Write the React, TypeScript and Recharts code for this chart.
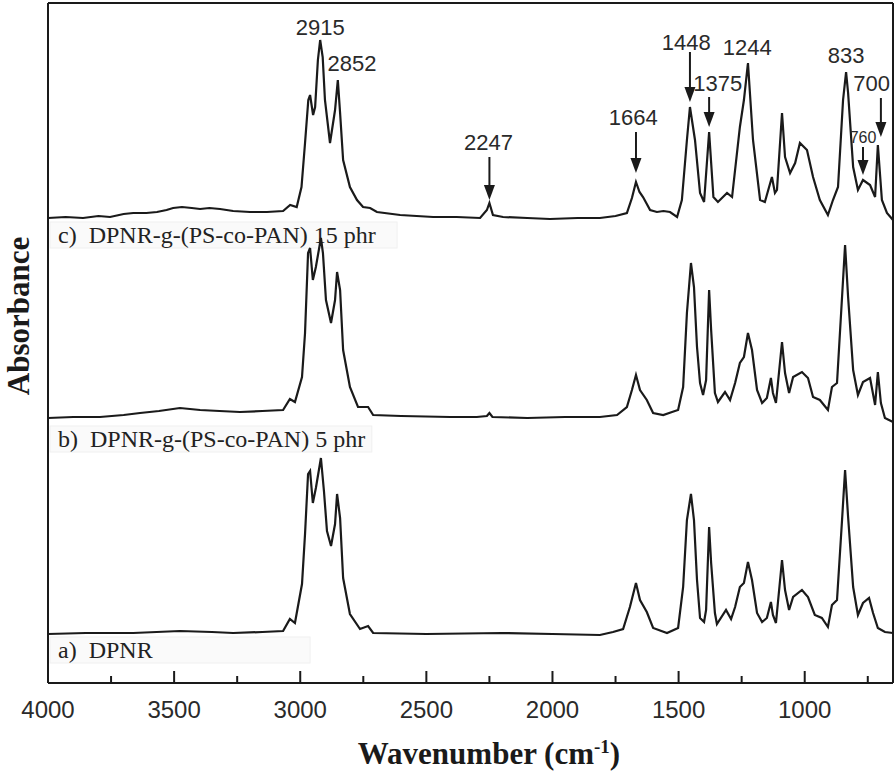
import React from 'react';
import { LineChart, Line, XAxis, YAxis, ReferenceArea, ReferenceDot, ReferenceLine } from 'recharts';

// ---- Data (wavenumber in cm-1, absorbance in arbitrary units relative to each spectrum baseline) ----
const cWave = [4000, 3930, 3861, 3800, 3754, 3700, 3662, 3610, 3568, 3530, 3504, 3469, 3430, 3397, 3360, 3318, 3266, 3199, 3132, 3068, 3040, 3014, 2995, 2981, 2968, 2961, 2949, 2941, 2930, 2921, 2911, 2902, 2882, 2862, 2851, 2842, 2830, 2803, 2775, 2751, 2723, 2696, 2604, 2473, 2380, 2287, 2260, 2250, 2236, 2196, 2100, 2010, 1900, 1812, 1750, 1705, 1685, 1669, 1655, 1641, 1613, 1586, 1560, 1534, 1506, 1487, 1467, 1455, 1435, 1415, 1399, 1379, 1362, 1344, 1308, 1288, 1257, 1241, 1225, 1205, 1177, 1158, 1130, 1118, 1110, 1090, 1078, 1058, 1038, 1019, 991, 967, 940, 908, 888, 868, 848, 836, 828, 808, 789, 769, 741, 721, 710, 694, 674, 650];
const cAbs = [0.00, 0.01, 0.00, 0.02, 0.01, 0.04, 0.05, 0.05, 0.06, 0.08, 0.10, 0.11, 0.10, 0.09, 0.10, 0.09, 0.07, 0.06, 0.06, 0.07, 0.13, 0.11, 0.31, 0.75, 1.18, 1.23, 1.03, 1.11, 1.58, 1.78, 1.61, 1.18, 0.75, 1.08, 1.38, 1.05, 0.58, 0.31, 0.18, 0.11, 0.10, 0.06, 0.03, 0.01, 0.01, 0.00, 0.08, 0.15, 0.03, 0.01, 0.00, -0.01, 0.00, 0.00, 0.02, 0.05, 0.20, 0.36, 0.26, 0.21, 0.08, 0.06, 0.07, 0.06, 0.01, 0.18, 0.78, 1.11, 0.78, 0.25, 0.16, 0.86, 0.21, 0.16, 0.25, 0.21, 0.91, 1.18, 1.55, 0.78, 0.18, 0.16, 0.41, 0.25, 0.28, 1.05, 0.61, 0.45, 0.55, 0.75, 0.68, 0.41, 0.18, 0.03, 0.18, 0.31, 1.18, 1.46, 1.25, 0.51, 0.28, 0.38, 0.33, 0.21, 0.73, 0.18, 0.05, -0.02];

const bWave = [4000, 3900, 3794, 3700, 3635, 3560, 3477, 3397, 3320, 3239, 3150, 3068, 3041, 3021, 2993, 2981, 2969, 2961, 2950, 2938, 2918, 2910, 2898, 2878, 2862, 2854, 2842, 2830, 2803, 2771, 2731, 2711, 2600, 2406, 2300, 2260, 2250, 2238, 2100, 1950, 1812, 1744, 1705, 1685, 1669, 1653, 1626, 1601, 1561, 1526, 1502, 1482, 1467, 1451, 1439, 1427, 1415, 1403, 1391, 1379, 1371, 1356, 1344, 1316, 1296, 1276, 1257, 1241, 1225, 1209, 1189, 1169, 1150, 1134, 1126, 1114, 1090, 1078, 1062, 1046, 1011, 987, 967, 940, 908, 892, 872, 852, 840, 828, 808, 789, 769, 741, 721, 710, 698, 682, 650];
const bAbs = [0.00, 0.01, 0.01, 0.03, 0.05, 0.07, 0.10, 0.08, 0.07, 0.06, 0.07, 0.08, 0.19, 0.16, 0.41, 0.85, 1.65, 1.70, 1.38, 1.51, 1.80, 1.65, 1.18, 0.95, 1.18, 1.46, 1.28, 0.68, 0.31, 0.11, 0.11, 0.03, 0.02, 0.01, 0.01, 0.02, 0.05, 0.01, 0.00, 0.01, 0.01, 0.03, 0.11, 0.28, 0.43, 0.28, 0.18, 0.05, 0.03, 0.06, 0.08, 0.31, 1.05, 1.55, 1.31, 0.71, 0.35, 0.23, 0.38, 1.28, 0.88, 0.25, 0.16, 0.26, 0.18, 0.35, 0.55, 0.61, 0.85, 0.68, 0.28, 0.15, 0.20, 0.40, 0.25, 0.15, 0.76, 0.45, 0.25, 0.41, 0.46, 0.40, 0.21, 0.18, 0.08, 0.31, 0.35, 1.21, 1.73, 1.21, 0.48, 0.23, 0.36, 0.40, 0.13, 0.46, 0.15, 0.00, -0.04];

const aWave = [4000, 3850, 3662, 3477, 3350, 3266, 3150, 3068, 3041, 3021, 2993, 2981, 2969, 2961, 2950, 2938, 2918, 2906, 2894, 2878, 2862, 2854, 2842, 2830, 2803, 2763, 2731, 2711, 2500, 2200, 2000, 1812, 1760, 1720, 1693, 1669, 1653, 1626, 1601, 1546, 1502, 1482, 1467, 1451, 1439, 1427, 1415, 1399, 1391, 1379, 1371, 1356, 1348, 1312, 1292, 1276, 1257, 1241, 1225, 1209, 1189, 1169, 1150, 1134, 1126, 1114, 1090, 1078, 1062, 1046, 1011, 987, 960, 932, 908, 892, 872, 852, 840, 828, 808, 789, 769, 745, 729, 710, 682, 650];
const aAbs = [0.00, 0.01, 0.01, 0.03, 0.02, 0.01, 0.02, 0.03, 0.15, 0.11, 0.50, 1.00, 1.60, 1.63, 1.31, 1.46, 1.76, 1.43, 1.03, 0.88, 1.10, 1.40, 1.16, 0.56, 0.20, 0.05, 0.08, 0.01, 0.00, 0.01, 0.00, -0.01, 0.02, 0.05, 0.27, 0.51, 0.34, 0.22, 0.06, 0.01, 0.06, 0.47, 1.14, 1.40, 1.14, 0.54, 0.16, 0.12, 0.24, 1.07, 0.71, 0.21, 0.10, 0.24, 0.15, 0.27, 0.47, 0.51, 0.72, 0.54, 0.21, 0.12, 0.16, 0.32, 0.19, 0.11, 0.74, 0.44, 0.24, 0.37, 0.44, 0.37, 0.19, 0.16, 0.07, 0.29, 0.34, 1.14, 1.64, 1.17, 0.47, 0.19, 0.31, 0.36, 0.21, 0.06, 0.02, 0.01];

// vertical stacking offsets of the three spectra
const offsets = { a: 0.49, b: 2.65, c: 4.65 };

const seriesLabels = {
  a: 'a)  DPNR',
  b: 'b)  DPNR-g-(PS-co-PAN) 5 phr',
  c: 'c)  DPNR-g-(PS-co-PAN) 15 phr',
};

const xTicks = [4000, 3750, 3500, 3250, 3000, 2750, 2500, 2250, 2000, 1750, 1500, 1250, 1000, 750];

// peak annotations: label, wavenumber, label height, optional arrow (from, to)
const peakLabels = ['2915', '2852', '2247', '1664', '1448', '1375', '1244', '833', '760', '700'];
const peakLabelWave = [2921, 2795, 2254, 1680, 1470, 1345, 1228, 836, 769, 735];
const peakLabelY = [6.56, 6.20, 5.41, 5.66, 6.41, 6.00, 6.36, 6.28, 5.46, 6.00];
const arrowWave = [null, null, 2250, 1669, 1455, 1379, null, null, 769, 698];
const arrowFrom = [null, null, 5.26, 5.51, 6.31, 5.86, null, null, 5.36, 5.85];
const arrowTo = [null, null, 4.83, 5.10, 5.81, 5.56, null, null, 5.08, 5.46];

// label box extents (in data units)
const labelBoxes = {
  c: { x1: 3992, x2: 2616, y1: 4.35, y2: 4.61 },
  b: { x1: 3992, x2: 2716, y1: 2.31, y2: 2.57 },
  a: { x1: 3992, x2: 2961, y1: 0.20, y2: 0.46 },
};

const build = (w: number[], v: number[], off: number) => w.map((x, i) => ({ w: x, y: +(v[i] + off).toFixed(3) }));
const dataA = build(aWave, aAbs, offsets.a);
const dataB = build(bWave, bAbs, offsets.b);
const dataC = build(cWave, cAbs, offsets.c);

const SANS = '"Liberation Sans", Arial, sans-serif';
const SERIF = '"Liberation Serif", "Times New Roman", serif';
const INK = '#1a1a1a';
const AXIS_Y = 683;

const XTick = (props: any) => {
  const { x, payload } = props;
  const v = payload.value;
  const major = v % 500 === 0;
  return (
    <g>
      <line x1={x} x2={x} y1={AXIS_Y} y2={AXIS_Y - (major ? 12 : 7)} stroke={INK} strokeWidth={2} />
      {major && (
        <text x={x} y={AXIS_Y + 35} textAnchor="middle" fontFamily={SANS} fontSize={24} fill="#2a2a2a">
          {v}
        </text>
      )}
    </g>
  );
};

const makeLabelShape = (text: string) => (p: any) => (
  <g>
    <rect x={p.x} y={p.y} width={p.width} height={p.height} fill="#fafafa" stroke="#f0f0f0" strokeWidth={1} />
    <text x={p.x + 8} y={p.y + p.height / 2 + 8} fontFamily={SERIF} fontSize={24} fill="#222" xmlSpace="preserve" style={{ whiteSpace: 'pre' }}>
      {text}
    </text>
  </g>
);

const ArrowShape = (p: any) => {
  const { x1, y1, x2, y2 } = p;
  return (
    <g>
      <line x1={x1} y1={y1} x2={x2} y2={y2 - 10} stroke={INK} strokeWidth={2} />
      <polygon points={`${x2 - 5.5},${y2 - 15} ${x2 + 5.5},${y2 - 15} ${x2},${y2}`} fill={INK} />
    </g>
  );
};

const Titles = () => (
  <g>
    <text x={489} y={764} textAnchor="middle" fontFamily={SERIF} fontWeight="bold" fontSize={31} fill={INK}>
      Wavenumber (cm<tspan dy={-11} fontSize={19}>-1</tspan><tspan dy={11}>)</tspan>
    </text>
    <text x={29} y={316} transform="rotate(-90, 29, 316)" textAnchor="middle" fontFamily={SERIF} fontWeight="bold" fontSize={31} fill={INK}>
      Absorbance
    </text>
  </g>
);

export default function App() {
  return (
    <div style={{ position: 'absolute', left: 0, top: 0, width: 896, height: 776, background: '#fff' }}>
      <LineChart width={896} height={776} margin={{ top: 2, right: 2, left: 47, bottom: 53 }}>
        <XAxis
          dataKey="w"
          type="number"
          domain={[650, 4000]}
          reversed
          allowDataOverflow
          ticks={xTicks}
          interval={0}
          tick={<XTick />}
          tickLine={false}
          height={40}
          axisLine={{ stroke: INK, strokeWidth: 2 }}
          label={{ content: () => <Titles /> }}
        />
        <XAxis
          xAxisId="top"
          orientation="top"
          dataKey="w"
          type="number"
          domain={[650, 4000]}
          reversed
          allowDataOverflow
          tick={false}
          tickLine={false}
          height={1}
          axisLine={{ stroke: INK, strokeWidth: 2 }}
        />
        <YAxis
          type="number"
          domain={[0, 6.8]}
          allowDataOverflow
          tick={false}
          tickLine={false}
          width={1}
          axisLine={{ stroke: INK, strokeWidth: 2 }}
        />
        <YAxis
          yAxisId="right"
          orientation="right"
          type="number"
          domain={[0, 6.8]}
          allowDataOverflow
          tick={false}
          tickLine={false}
          width={1}
          axisLine={{ stroke: INK, strokeWidth: 2 }}
        />

        {(['c', 'b', 'a'] as const).map((k) => (
          <ReferenceArea
            key={'box' + k}
            x1={labelBoxes[k].x1}
            x2={labelBoxes[k].x2}
            y1={labelBoxes[k].y1}
            y2={labelBoxes[k].y2}
            shape={makeLabelShape(seriesLabels[k])}
          />
        ))}

        <Line data={dataA} dataKey="y" type="linear" stroke={INK} strokeWidth={2.2} dot={false} isAnimationActive={false} />
        <Line data={dataB} dataKey="y" type="linear" stroke={INK} strokeWidth={2.2} dot={false} isAnimationActive={false} />
        <Line data={dataC} dataKey="y" type="linear" stroke={INK} strokeWidth={2.2} dot={false} isAnimationActive={false} />

        {peakLabels.map((lab, i) =>
          arrowWave[i] != null ? (
            <ReferenceLine
              key={'arr' + i}
              segment={[
                { x: arrowWave[i] as number, y: arrowFrom[i] as number },
                { x: arrowWave[i] as number, y: arrowTo[i] as number },
              ]}
              shape={ArrowShape}
            />
          ) : null
        )}
        {peakLabels.map((lab, i) => (
          <ReferenceDot
            key={'lab' + i}
            x={peakLabelWave[i]}
            y={peakLabelY[i]}
            r={0}
            shape={(p: any) => (
              <text
                x={p.cx}
                y={p.cy + (lab === '760' ? 6 : 8)}
                textAnchor="middle"
                fontFamily={SANS}
                fontSize={lab === '760' ? 16 : 22}
                fill="#2a2a2a"
              >
                {lab}
              </text>
            )}
          />
        ))}
      </LineChart>
    </div>
  );
}
